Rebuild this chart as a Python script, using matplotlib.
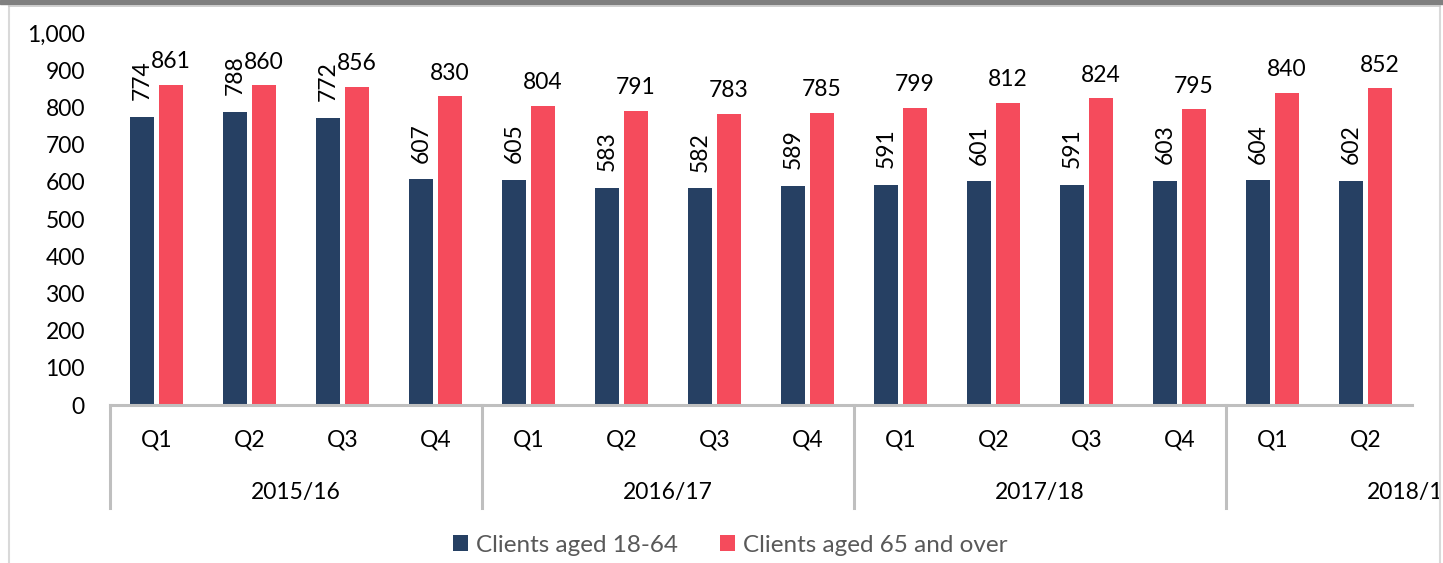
import matplotlib.pyplot as plt
import numpy as np
from matplotlib.lines import Line2D
from matplotlib.patches import Rectangle

# data
quarters = ["Q1", "Q2", "Q3", "Q4", "Q1", "Q2", "Q3", "Q4",
            "Q1", "Q2", "Q3", "Q4", "Q1", "Q2"]
years = ["2015/16", "2016/17", "2017/18", "2018/19"]
aged_18_64 = [774, 788, 772, 607, 605, 583, 582, 589, 591, 601, 591, 603, 604, 602]
aged_65_over = [861, 860, 856, 830, 804, 791, 783, 785, 799, 812, 824, 795, 840, 852]

BLUE = "#264063"
RED = "#F54B5C"
GRID = "#BFBFBF"

plt.rcParams['font.family'] = ['Lato', 'DejaVu Sans']

W, H = 1443, 563
fig = plt.figure(figsize=(W / 100, H / 100), dpi=100)
ax = fig.add_axes([110 / W, 158 / H, (1412 - 110) / W, 372 / H])

x = np.arange(len(quarters))
bw = 0.258
off = 0.156
ax.bar(x - off, aged_18_64, bw, color=BLUE, label="Clients aged 18-64")
ax.bar(x + off, aged_65_over, bw, color=RED, label="Clients aged 65 and over")

#data labels
for xi, v in zip(x, aged_18_64):
    ax.annotate(str(v), (xi - off, v), xytext=(0, 12), textcoords="offset points",
                rotation=90, ha="center", va="bottom", fontsize=16.5)
for xi, v in zip(x, aged_65_over):
    ax.annotate(str(v), (xi + off, v), xytext=(0, 9), textcoords="offset points",
                ha="center", va="bottom", fontsize=16.5)

ax.set_xlim(-0.5, 13.5)
ax.set_ylim(0, 1000)
ax.set_yticks(np.arange(0, 1001, 100))
ax.set_yticklabels([f"{t:,}" for t in range(0, 1001, 100)], fontsize=16.5)
ax.tick_params(axis="y", length=0, pad=18)
ax.set_xticks([])
for s in ["top", "right", "left"]:
    ax.spines[s].set_visible(False)
ax.spines["bottom"].set_color(GRID)
ax.spines["bottom"].set_linewidth(2.2)

#category axis
trans = ax.get_xaxis_transform()
for q, xi in zip(quarters, x):
    ax.text(xi, -35 / 372, q, transform=trans, ha="center", va="center", fontsize=16.5)
for i, yr in enumerate(years):
    ax.text(4 * i + 1.5, -87 / 372, yr, transform=trans, ha="center", va="center",
            fontsize=16.5, clip_on=False)
for sep in [-0.5, 3.5, 7.5, 11.5]:
    ax.add_line(Line2D([sep, sep], [0, -103 / 372], transform=trans, color=GRID,
                       lw=2.2, clip_on=False))

#legend
fig.legend(loc="center", bbox_to_anchor=(0.506, 1 - 545 / H), ncol=2, frameon=False,
           fontsize=17.5, labelcolor="#595959", handlelength=0.62, handleheight=0.62,
           handletextpad=0.3, columnspacing=1.75)

#frame
fig.add_artist(Rectangle((1441 / W, 0), 2 / W, 1, transform=fig.transFigure,
                         color="white", zorder=10))
fig.add_artist(Line2D([1440 / W, 1440 / W], [0, 1 - 6 / H], transform=fig.transFigure,
                      color="#D9D9D9", lw=1.5, zorder=11))
fig.add_artist(Line2D([9 / W, 9 / W], [0, 1 - 6 / H], transform=fig.transFigure,
                      color="#D9D9D9", lw=1.5, zorder=11))
fig.add_artist(Rectangle((0, 1 - 4 / H), 1, 4 / H, transform=fig.transFigure,
                         color="#808080", zorder=11))
fig.add_artist(Line2D([9 / W, 1440 / W], [1 - 5.5 / H, 1 - 5.5 / H],
                      transform=fig.transFigure, color="#C8C8C8", lw=1.2, zorder=11))

fig.savefig("out.png", dpi=100)
